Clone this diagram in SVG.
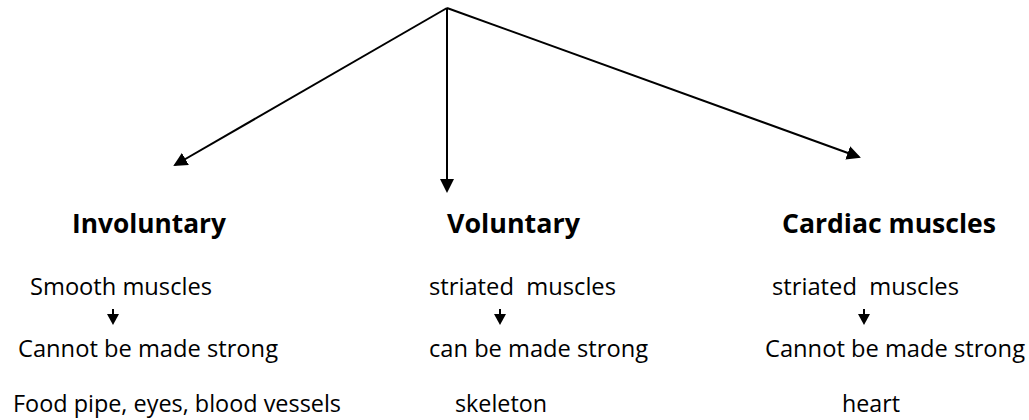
<svg xmlns="http://www.w3.org/2000/svg" width="1029" height="420" viewBox="0 0 1029 420">
<style>
.h{font-family:"Open Sans","Noto Sans","Liberation Sans",sans-serif;font-weight:bold;font-size:27px;fill:#000}
.t{font-family:"Open Sans","Noto Sans","Liberation Sans",sans-serif;font-size:24px;fill:#000;white-space:pre}
.c{stroke:#000;stroke-width:2;fill:none}
</style>
<defs>
<marker id="ah" markerWidth="7" markerHeight="7" refX="6" refY="3.5" orient="auto" markerUnits="strokeWidth">
<path d="M0,0 L7,3.5 L0,7 Z" fill="#000"/>
</marker>
</defs>
<rect width="1029" height="420" fill="#fff"/>
<g id="connectors">
<line class="c" x1="447" y1="8" x2="175" y2="165" marker-end="url(#ah)"/>
<line class="c" x1="447" y1="8" x2="447" y2="191" marker-end="url(#ah)"/>
<line class="c" x1="447" y1="8" x2="859" y2="157" marker-end="url(#ah)"/>
<path d="M113,309 V316" class="c"/><path d="M107,314 L119,314 L113,325 Z" fill="#000"/>
<path d="M500,309 V316" class="c"/><path d="M494,314 L506,314 L500,325 Z" fill="#000"/>
<path d="M864,309 V316" class="c"/><path d="M858,314 L870,314 L864,325 Z" fill="#000"/>
</g>
<g id="involuntary">
<text class="h" x="72" y="233" textLength="154" lengthAdjust="spacingAndGlyphs">Involuntary</text>
<text class="t" x="30" y="295" textLength="182" lengthAdjust="spacingAndGlyphs">Smooth muscles</text>
<text class="t" x="18" y="357" textLength="260" lengthAdjust="spacingAndGlyphs">Cannot be made strong</text>
<text class="t" x="13" y="412" textLength="328" lengthAdjust="spacingAndGlyphs">Food pipe, eyes, blood vessels</text>
</g>
<g id="voluntary">
<text class="h" x="447" y="233" textLength="133" lengthAdjust="spacingAndGlyphs">Voluntary</text>
<text class="t" x="429" y="295" textLength="187" lengthAdjust="spacingAndGlyphs" xml:space="preserve">striated  muscles</text>
<text class="t" x="429" y="357" textLength="219" lengthAdjust="spacingAndGlyphs">can be made strong</text>
<text class="t" x="455" y="412" textLength="92" lengthAdjust="spacingAndGlyphs">skeleton</text>
</g>
<g id="cardiac">
<text class="h" x="782" y="233" textLength="214" lengthAdjust="spacingAndGlyphs">Cardiac muscles</text>
<text class="t" x="772" y="295" textLength="187" lengthAdjust="spacingAndGlyphs" xml:space="preserve">striated  muscles</text>
<text class="t" x="765" y="357" textLength="260" lengthAdjust="spacingAndGlyphs">Cannot be made strong</text>
<text class="t" x="842" y="412" textLength="58" lengthAdjust="spacingAndGlyphs">heart</text>
</g>
</svg>
